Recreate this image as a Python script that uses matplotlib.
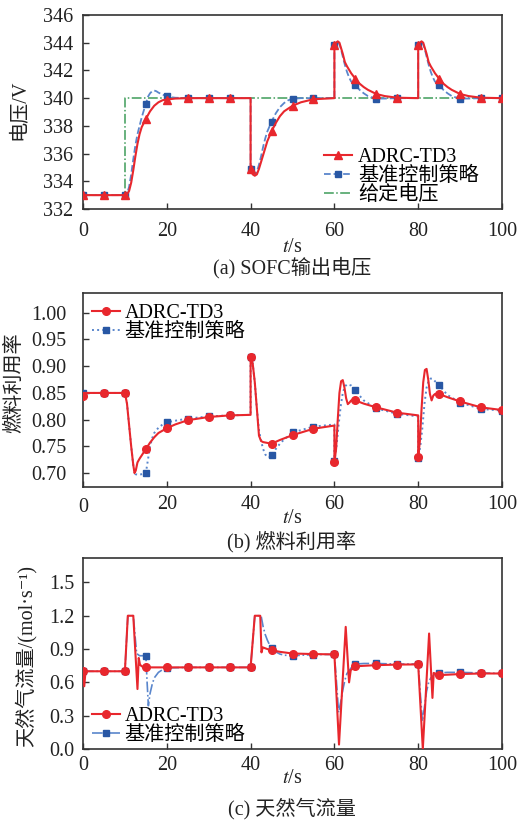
import numpy as np
import matplotlib
matplotlib.use("Agg")
import matplotlib.pyplot as plt

plt.rcParams['font.family'] = ['Liberation Serif', 'Noto Sans CJK SC', 'DejaVu Serif']
plt.rcParams['mathtext.fontset'] = 'stix'
plt.rcParams['font.size'] = 14.5

RED = '#e8272d'
BLUE_LINE = '#5a86cc'
BLUE_MK = '#2857a4'
GREEN = '#3f9c5a'
DARK = '#333333'

# ---- (a) SOFC output voltage ----
ta_red = [0, 5, 10, 10.5, 11, 11.5, 12, 12.5, 13, 13.5, 14, 15, 16, 17, 18, 19, 20, 22, 25, 30, 35,
          40, 40, 40.5, 41, 41.5, 42, 43, 44, 45, 46, 47, 48, 50, 52, 55,
          60, 60, 60.4, 60.8, 61.2, 61.6, 62, 62.5, 63, 64, 65, 66, 67, 68, 70, 72, 75,
          80, 80, 80.4, 80.8, 81.2, 81.6, 82, 82.5, 83, 84, 85, 86, 87, 88, 90, 92, 95, 100]
va_red = [333, 333, 333, 333.05, 333.3, 333.9, 334.8, 335.8, 336.7, 337.4, 337.9, 338.5, 339.05, 339.45,
          339.7, 339.85, 339.9, 339.97, 340, 340, 340,
          340, 334.9, 334.5, 334.4, 334.5, 334.9, 335.9, 336.9, 337.6, 338.2, 338.7, 339.05, 339.45, 339.7, 339.92,
          340, 343.8, 344.0, 344.1, 344.0, 343.6, 343.2, 342.6, 342.3, 341.8, 341.4, 341.05, 340.8, 340.6,
          340.3, 340.15, 340.03,
          340, 343.8, 344.0, 344.1, 344.0, 343.6, 343.2, 342.6, 342.3, 341.8, 341.4, 341.05, 340.8, 340.6,
          340.3, 340.15, 340.03, 340]

ta_base = [0, 5, 10, 10.5, 11, 11.5, 12, 12.5, 13, 13.5, 14, 14.5, 15, 15.5, 16, 16.5, 17, 17.5, 18, 19, 20,
           21, 22, 25, 30, 35,
           40, 40, 40.5, 41, 41.5, 42, 42.5, 43, 43.5, 44, 45, 46, 47, 48, 49, 50, 52, 55,
           60, 60, 60.4, 60.8, 61.2, 61.6, 62, 62.5, 63, 63.5, 64, 65, 66, 67, 68, 69, 70, 72, 75,
           80, 80, 80.4, 80.8, 81.2, 81.6, 82, 82.5, 83, 83.5, 84, 85, 86, 87, 88, 89, 90, 92, 95, 100]
va_base = [333, 333, 333, 333.1, 333.6, 334.5, 335.6, 336.6, 337.4, 338.0, 338.6, 339.1, 339.6, 340.1, 340.35,
           340.5, 340.55, 340.5, 340.4, 340.25, 340.15, 340.07, 340.03, 340, 340, 340,
           340, 334.9, 334.55, 334.5, 334.7, 335.2, 335.8, 336.5, 337.1, 337.6, 338.3, 338.9, 339.35, 339.65,
           339.85, 339.95, 340, 340,
           340, 343.8, 344.0, 344.05, 343.9, 343.5, 343.0, 342.4, 341.9, 341.5, 341.2, 340.95, 340.6, 340.35,
           340.15, 340.05, 339.97, 339.97, 340,
           340, 343.8, 344.0, 344.05, 343.9, 343.5, 343.0, 342.4, 341.9, 341.5, 341.2, 340.95, 340.6, 340.35,
           340.15, 340.05, 339.97, 339.97, 340, 340]

ta_ref = [0, 10, 10, 100]
va_ref = [333, 333, 340, 340]

# ---- (b) fuel utilisation ----
tb_red = [0, 0.3, 5, 10, 10.5, 11, 11.5, 12, 12.3, 12.6, 13, 13.5, 14, 15, 16, 17, 18, 20, 22, 25, 30, 35,
          40, 40, 40.5, 41, 41.5, 42, 42.5, 43, 45, 47, 50, 55,
          60, 60, 60.4, 60.8, 61.2, 61.6, 62, 62.4, 62.8, 63.2, 63.6, 64, 65, 67, 70, 75,
          80, 80, 80.4, 80.8, 81.2, 81.6, 82, 82.4, 82.8, 83.2, 83.6, 84, 85, 87, 90, 95, 100]
vb_red = [0.845, 0.85, 0.85, 0.85, 0.83, 0.79, 0.75, 0.715, 0.70, 0.705, 0.72, 0.727, 0.733, 0.745, 0.757,
          0.767, 0.775, 0.784, 0.791, 0.799, 0.805, 0.808,
          0.809, 0.917, 0.905, 0.87, 0.82, 0.77, 0.76, 0.758, 0.755, 0.762, 0.771, 0.783,
          0.789, 0.72, 0.745, 0.80, 0.85, 0.872, 0.874, 0.86, 0.84, 0.829, 0.832, 0.836, 0.836, 0.83, 0.823, 0.813,
          0.808, 0.73, 0.76, 0.82, 0.87, 0.893, 0.895, 0.875, 0.848, 0.836, 0.845, 0.848, 0.848, 0.842,
          0.834, 0.823, 0.818]

tb_base = [0, 5, 10, 10.5, 11, 11.5, 12, 12.5, 13, 13.5, 14, 14.5, 15, 15.5, 16, 16.5, 17, 18, 19, 20, 22, 25,
           30, 35, 40, 40, 40.5, 41, 41.5, 42, 42.5, 43, 43.5, 44, 44.5, 45, 46, 47, 48, 50, 55,
           60, 60, 60.5, 61, 61.5, 62, 62.5, 63, 64, 65, 66, 67, 70, 75,
           80, 80, 80.5, 81, 81.5, 82, 82.5, 83, 83.5, 84, 85, 86, 87, 90, 95, 100]
vb_base = [0.85, 0.85, 0.85, 0.83, 0.79, 0.75, 0.715, 0.698, 0.697, 0.697, 0.698, 0.699, 0.70, 0.725, 0.75,
           0.765, 0.775, 0.785, 0.791, 0.795, 0.798, 0.802, 0.806, 0.808,
           0.809, 0.917, 0.905, 0.87, 0.82, 0.78, 0.76, 0.745, 0.735, 0.73, 0.73, 0.733, 0.745, 0.755, 0.763,
           0.776, 0.787,
           0.791, 0.722, 0.75, 0.79, 0.825, 0.85, 0.862, 0.866, 0.864, 0.856, 0.845, 0.836, 0.821, 0.811,
           0.806, 0.728, 0.75, 0.785, 0.83, 0.86, 0.873, 0.877, 0.876, 0.872, 0.865, 0.855, 0.846, 0.832,
           0.82, 0.817]

# ---- (c) natural gas flow ----
tc_red = [0, 0.3, 0.6, 5, 10, 10.7, 12, 13, 13.3, 13.6, 14, 15, 20, 25, 30, 35,
          40, 41, 42.3, 42.6, 42.9, 44, 45, 47, 50, 55,
          60, 61.1, 62.7, 63.5, 63.9, 65, 70, 75,
          80, 81.1, 82.6, 83.4, 83.7, 85, 90, 95, 100]
vc_red = [0.70, 0.565, 0.70, 0.70, 0.70, 1.20, 1.20, 0.54, 0.82, 0.76, 0.745, 0.735, 0.735, 0.735, 0.735, 0.735,
          0.735, 1.20, 1.20, 0.87, 0.915, 0.90, 0.89, 0.875, 0.86, 0.855,
          0.852, 0.04, 1.10, 0.60, 0.71, 0.745, 0.755, 0.76,
          0.762, 0.0, 1.04, 0.46, 0.685, 0.665, 0.675, 0.68, 0.68]

tc_base = [0, 5, 10, 10.7, 12, 12.8, 13.5, 14.5, 15, 15.3, 15.6, 16, 16.5, 17, 18, 19, 20, 25, 30, 35,
           40, 41, 42.5, 43, 43.5, 44, 44.5, 45, 46, 47, 48, 50, 55,
           60, 60.5, 61, 61.5, 62, 62.5, 63, 64, 65, 67, 70, 75,
           80, 80.5, 81, 81.5, 82, 82.5, 83, 84, 85, 87, 90, 95, 100]
vc_base = [0.70, 0.70, 0.70, 1.20, 1.20, 0.86, 0.84, 0.84, 0.84, 0.60, 0.39, 0.50, 0.58, 0.64, 0.69, 0.715,
           0.73, 0.735, 0.735, 0.735,
           0.735, 1.20, 1.20, 1.10, 1.03, 0.98, 0.94, 0.91, 0.875, 0.855, 0.845, 0.84, 0.85,
           0.852, 0.6, 0.33, 0.42, 0.53, 0.62, 0.68, 0.73, 0.765, 0.77, 0.77, 0.765,
           0.765, 0.5, 0.25, 0.38, 0.52, 0.60, 0.64, 0.675, 0.685, 0.69, 0.69, 0.685, 0.68]


def marks(t):
    # last sample at each multiple of 5 s carries the marker
    t = list(t)
    idx = []
    for k in range(0, 101, 5):
        hits = [i for i, v in enumerate(t) if v == k]
        if hits:
            idx.append(hits[-1])
    return idx


def style_axes(ax):
    for s in ax.spines.values():
        s.set_color(DARK)
        s.set_linewidth(1.2)
    ax.tick_params(direction='in', length=4, width=1, colors=DARK, labelcolor='#222222',
                   top=False, right=False)
    ax.set_xlim(0, 100)


fig = plt.figure(figsize=(5.2, 8.21), dpi=100)
W, H = 520, 821


def add_ax(top, bottom):
    return fig.add_axes([83 / W, 1 - bottom / H, (502 - 83) / W, (bottom - top) / H])


def px_text(x, y, s, **kw):
    return fig.text(x / W, 1 - y / H, s, ha='center', va='center', color='#222222', **kw)


# panel a
ax = add_ax(15, 209)
style_axes(ax)
ax.plot(ta_base, va_base, '--', color=BLUE_LINE, lw=1.3, marker='s', ms=5, mfc=BLUE_MK, mec=BLUE_MK,
        markevery=marks(ta_base), label='基准控制策略', zorder=3)
ax.plot(ta_ref, va_ref, '-.', color=GREEN, lw=1.1, label='给定电压', zorder=2)
ax.plot(ta_red, va_red, '-', color=RED, lw=1.5, marker='^', ms=6, mfc=RED, mec=RED,
        markevery=marks(ta_red), label='ADRC-TD3', zorder=4)
ax.set_ylim(332, 346)
ax.set_yticks(np.arange(332, 347, 2))
ax.set_xticks(np.arange(0, 101, 20))
ax.tick_params(axis='y', pad=7)
ax.tick_params(axis='x', pad=9)
h, l = ax.get_legend_handles_labels()
ax.legend([h[2], h[0], h[1]], [l[2], l[0], l[1]], loc='lower left', bbox_to_anchor=(0.575, 0.02),
          frameon=False, handlelength=1.4, handletextpad=0.3, labelspacing=0.0, borderpad=0,
          borderaxespad=0)
px_text(20, 110, '电压/V', rotation=90)
px_text(292, 248, '$t$/s')
px_text(292, 268, '(a) SOFC输出电压')

# panel b
ax = add_ax(293, 487)
style_axes(ax)
ax.plot(tb_base, vb_base, ':', color=BLUE_LINE, lw=1.4, marker='s', ms=5, mfc=BLUE_MK, mec=BLUE_MK,
        markevery=marks(tb_base), label='基准控制策略', zorder=3)
ax.plot(tb_red, vb_red, '-', color=RED, lw=1.5, marker='o', ms=5.5, mfc=RED, mec=RED,
        markevery=marks(tb_red), label='ADRC-TD3', zorder=4)
ax.set_ylim(0.674, 1.037)
ax.set_yticks(np.arange(0.70, 1.001, 0.05))
ax.set_yticklabels([f'{v:.2f}' for v in np.arange(0.70, 1.001, 0.05)])
ax.set_xticks(np.arange(0, 101, 20))
ax.set_xticklabels(['', '20', '40', '60', '80', '100'])
ax.tick_params(axis='y', pad=12)
ax.tick_params(axis='x', pad=6)
px_text(83, 507, '0')
h, l = ax.get_legend_handles_labels()
ax.legend([h[1], h[0]], [l[1], l[0]], loc='upper left', bbox_to_anchor=(0.022, 0.945),
          frameon=False, handlelength=1.4, handletextpad=0.2, labelspacing=0.0, borderpad=0,
          borderaxespad=0)
px_text(15, 383, '燃料利用率', rotation=90)
px_text(292, 518, '$t$/s')
px_text(292, 542, '(b) 燃料利用率')

# panel c
ax = add_ax(558, 749)
style_axes(ax)
ax.plot(tc_base, vc_base, '-.', color=BLUE_LINE, lw=1.2, marker='s', ms=5, mfc=BLUE_MK, mec=BLUE_MK,
        markevery=marks(tc_base), label='基准控制策略', zorder=3)
ax.plot(tc_red, vc_red, '-', color=RED, lw=1.5, marker='o', ms=5.5, mfc=RED, mec=RED,
        markevery=marks(tc_red), label='ADRC-TD3', zorder=4)
ax.set_ylim(0, 1.72)
ax.set_yticks(np.arange(0, 1.51, 0.3))
ax.set_yticklabels([f'{v:.1f}' for v in np.arange(0, 1.51, 0.3)])
ax.set_xticks(np.arange(0, 101, 20))
ax.tick_params(axis='y', pad=6)
ax.tick_params(axis='x', pad=5)
h, l = ax.get_legend_handles_labels()
ax.legend([h[1], h[0]], [l[1], l[0]], loc='lower left', bbox_to_anchor=(0.022, 0.02),
          frameon=False, handlelength=1.4, handletextpad=0.2, labelspacing=0.0, borderpad=0,
          borderaxespad=0)
px_text(26, 656, '天然气流量/(mol·s⁻¹)', rotation=90)
px_text(292, 778, '$t$/s')
px_text(292, 809, '(c) 天然气流量')

fig.savefig('out.png', dpi=100)
